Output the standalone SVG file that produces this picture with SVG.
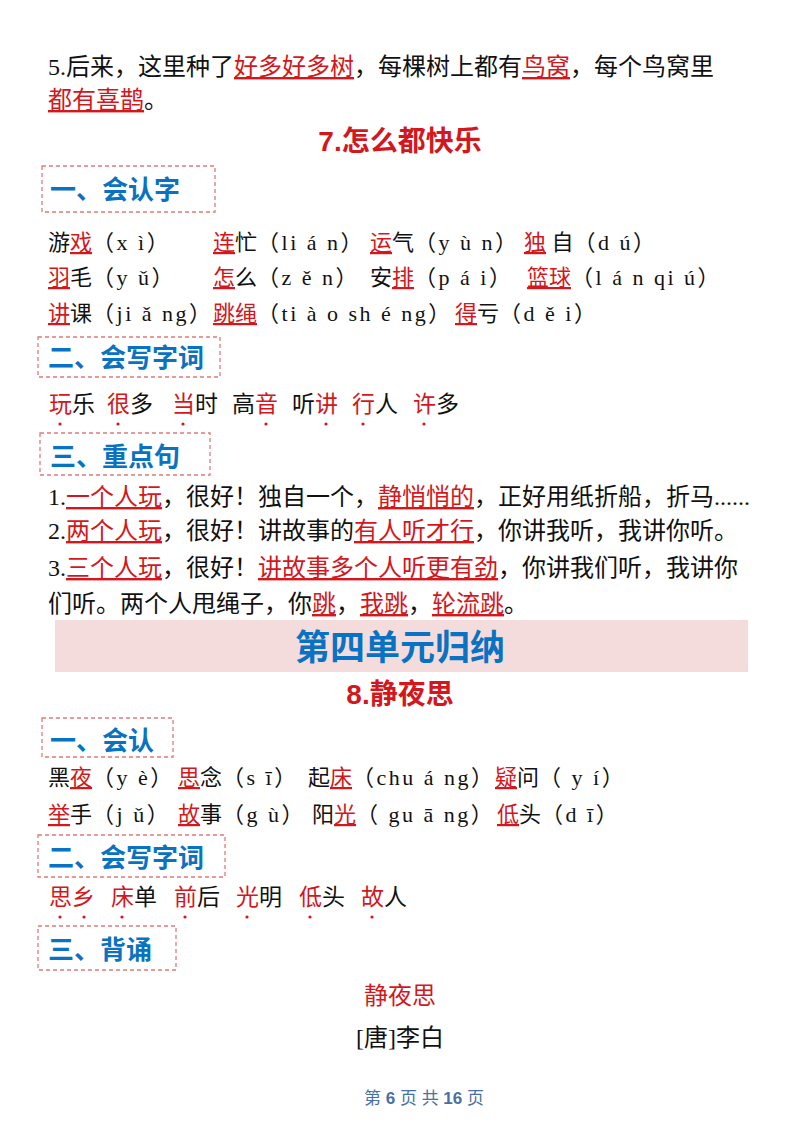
<svg xmlns="http://www.w3.org/2000/svg" width="800" height="1132" viewBox="0 0 800 1132">
<style>
text{font-family:"Liberation Serif","Noto Sans CJK SC",serif;font-size:22px;fill:#111}
.p{font-size:24px}
.w{font-size:23px}
.r{fill:#d3171c}
.u{text-decoration:underline}
.h{font-family:"Liberation Sans","Noto Sans CJK SC",sans-serif;font-weight:bold;fill:#0a72c2;font-size:26px}
.t{font-family:"Liberation Sans","Noto Sans CJK SC",sans-serif;font-weight:bold;fill:#d3171c;font-size:28px}
.box{fill:none;stroke:#e07a7a;stroke-width:1.3;stroke-dasharray:4 3}
.py{letter-spacing:2.5px}
circle{fill:#d3171c}
</style>
<g id="top">
<text class="p" x="48" y="75">5.后来，这里种了<tspan class="r u">好多好多树</tspan>，每棵树上都有<tspan class="r u">鸟窝</tspan>，每个鸟窝里</text>
<text class="p" x="48" y="108"><tspan class="r u">都有喜鹊</tspan>。</text>
<text class="t" x="400" y="151" text-anchor="middle">7.怎么都快乐</text>
</g>
<g id="s1">
<rect class="box" x="42" y="166" width="173" height="46"/>
<text class="h" x="50" y="199">一、会认字</text>
<text x="48" y="250">游<tspan class="r u">戏</tspan><tspan class="py">（x ì）</tspan></text>
<text x="213" y="250"><tspan class="r u">连</tspan>忙<tspan class="py">（li á n）</tspan></text>
<text x="370" y="250"><tspan class="r u">运</tspan>气<tspan class="py">（y ù n）</tspan></text>
<text x="524" y="250"><tspan class="r u">独</tspan> 自<tspan class="py">（d ú）</tspan></text>
<text x="48" y="285"><tspan class="r u">羽</tspan>毛<tspan class="py">（y ǔ）</tspan></text>
<text x="213" y="285"><tspan class="r u">怎</tspan>么<tspan class="py">（z ě n）</tspan></text>
<text x="370" y="285">安<tspan class="r u">排</tspan><tspan class="py">（p á i）</tspan></text>
<text x="527" y="285"><tspan class="r u">篮球</tspan><tspan class="py">（l á n  qi ú）</tspan></text>
<text x="48" y="321"><tspan class="r u">讲</tspan>课<tspan class="py">（ji ǎ ng）</tspan></text>
<text x="213" y="321"><tspan class="r u">跳绳</tspan><tspan class="py">（ti à o  sh é ng）</tspan></text>
<text x="455" y="321"><tspan class="r u">得</tspan>亏<tspan class="py">（d ě i）</tspan></text>
</g>
<g id="s2">
<rect class="box" x="38" y="337" width="182" height="40"/>
<text class="h" x="48" y="367">二、会写字词</text>
<text class="w" x="49" y="412"><tspan class="r">玩</tspan>乐</text>
<text class="w" x="107" y="412"><tspan class="r">很</tspan>多</text>
<text class="w" x="172" y="412"><tspan class="r">当</tspan>时</text>
<text class="w" x="232" y="412">高<tspan class="r">音</tspan></text>
<text class="w" x="292" y="412">听<tspan class="r">讲</tspan></text>
<text class="w" x="352" y="412"><tspan class="r">行</tspan>人</text>
<text class="w" x="413" y="412"><tspan class="r">许</tspan>多</text>
<circle cx="60" cy="424" r="1.6"/><circle cx="118" cy="424" r="1.6"/><circle cx="183" cy="424" r="1.6"/><circle cx="266" cy="424" r="1.6"/><circle cx="326" cy="424" r="1.6"/><circle cx="363" cy="424" r="1.6"/><circle cx="424" cy="424" r="1.6"/>
</g>
<g id="s3">
<rect class="box" x="40" y="433" width="170" height="42"/>
<text class="h" x="50" y="466">三、重点句</text>
<text class="p" x="48" y="505">1.<tspan class="r u">一个人玩</tspan>，很好！独自一个，<tspan class="r u">静悄悄的</tspan>，正好用纸折船，折马......</text>
<text class="p" x="48" y="539">2.<tspan class="r u">两个人玩</tspan>，很好！讲故事的<tspan class="r u">有人听才行</tspan>，你讲我听，我讲你听。</text>
<text class="p" x="48" y="576">3.<tspan class="r u">三个人玩</tspan>，很好！<tspan class="r u">讲故事多个人听更有劲</tspan>，你讲我们听，我讲你</text>
<text class="p" x="48" y="612">们听。两个人甩绳子，你<tspan class="r u">跳</tspan>，<tspan class="r u">我跳</tspan>，<tspan class="r u">轮流跳</tspan>。</text>
</g>
<g id="banner">
<rect x="55" y="620" width="693" height="52" fill="#f4dcdc"/>
<text x="400" y="660" text-anchor="middle" style="font-family:'Liberation Sans','Noto Sans CJK SC',sans-serif;font-weight:bold;fill:#0a72c2;font-size:35px">第四单元归纳</text>
<text class="t" x="400" y="704" text-anchor="middle">8.静夜思</text>
</g>
<g id="s4">
<rect class="box" x="42" y="718" width="131" height="39"/>
<text class="h" x="50" y="750">一、会认</text>
<text x="48" y="785">黑<tspan class="r u">夜</tspan><tspan class="py">（y è）</tspan></text>
<text x="178" y="785"><tspan class="r u">思</tspan>念<tspan class="py">（s ī）</tspan></text>
<text x="308" y="785">起<tspan class="r u">床</tspan><tspan class="py">（chu á ng）</tspan></text>
<text x="495" y="785"><tspan class="r u">疑</tspan>问<tspan class="py">（ y í）</tspan></text>
<text x="48" y="822"><tspan class="r u">举</tspan>手<tspan class="py">（j ǔ）</tspan></text>
<text x="178" y="822"><tspan class="r u">故</tspan>事<tspan class="py">（g ù）</tspan></text>
<text x="312" y="822">阳<tspan class="r u">光</tspan><tspan class="py">（ gu ā ng）</tspan></text>
<text x="497" y="822"><tspan class="r u">低</tspan>头<tspan class="py">（d ī）</tspan></text>
</g>
<g id="s5">
<rect class="box" x="38" y="835" width="187" height="42"/>
<text class="h" x="48" y="867">二、会写字词</text>
<text class="w" x="49" y="905"><tspan class="r">思乡</tspan></text>
<text class="w" x="111" y="905"><tspan class="r">床</tspan>单</text>
<text class="w" x="174" y="905"><tspan class="r">前</tspan>后</text>
<text class="w" x="236" y="905"><tspan class="r">光</tspan>明</text>
<text class="w" x="299" y="905"><tspan class="r">低</tspan>头</text>
<text class="w" x="361" y="905"><tspan class="r">故</tspan>人</text>
<circle cx="60" cy="917" r="1.6"/><circle cx="84" cy="917" r="1.6"/><circle cx="122" cy="917" r="1.6"/><circle cx="185" cy="917" r="1.6"/><circle cx="247" cy="917" r="1.6"/><circle cx="310" cy="917" r="1.6"/><circle cx="372" cy="917" r="1.6"/>
</g>
<g id="s6">
<rect class="box" x="38" y="926" width="138" height="44"/>
<text class="h" x="48" y="959">三、背诵</text>
<text class="r p" x="400" y="1004" text-anchor="middle">静夜思</text>
<text class="p" x="400" y="1046" text-anchor="middle">[唐]李白</text>
<text x="424" y="1104" text-anchor="middle" style="font-family:'Liberation Sans','Noto Sans CJK SC',sans-serif;font-size:17px;fill:#4a6fa5">第 <tspan font-weight="bold">6</tspan> 页 共 <tspan font-weight="bold">16</tspan> 页</text>
</g>
</svg>
